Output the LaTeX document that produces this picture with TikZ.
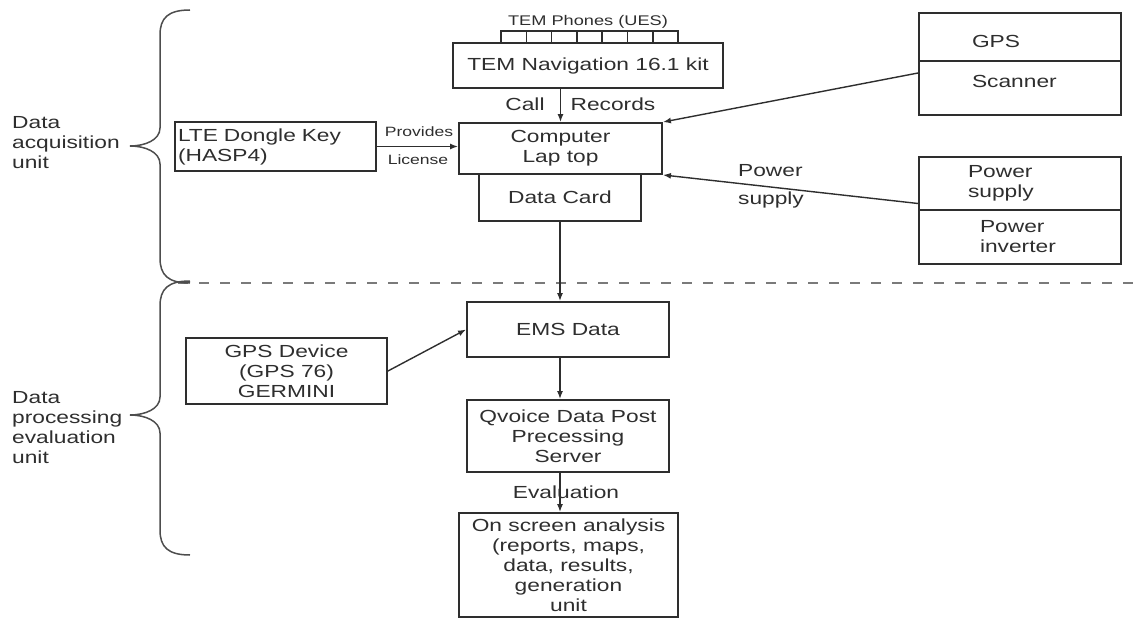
\documentclass[tikz,border=0pt]{standalone}
\usepackage{fontspec}
\setmainfont{Liberation Sans}[FakeStretch=1.3]
\usepackage{tikz}
\usetikzlibrary{positioning,calc,arrows.meta}
\definecolor{ink}{HTML}{2e2e2e}
\definecolor{dashgray}{HTML}{7a7a7a}
\tikzset{box/.style={draw=ink,line width=1.9pt,text=ink,inner sep=0pt,font=\fontsize{17.5}{20}\selectfont,align=center},
	lbl/.style={text=ink,inner sep=0pt,font=\fontsize{17.5}{20}\selectfont},
	small/.style={text=ink,inner sep=0pt,font=\fontsize{13.5}{15}\selectfont},
	arr/.style={draw=ink,line width=1.4pt,-{Latex[length=8pt,width=6pt]}},
	brc/.style={draw=ink!85,line width=1.5pt}}

\begin{document}
\begin{tikzpicture}[x=1pt,y=-1pt]
	\useasboundingbox (0,0) rectangle (1136,618);
	% acquisition part
	\node[box,minimum width=270pt,minimum height=45pt] (nav) at (588,65.5) {TEM Navigation 16.1 kit};
	\def\tw{25.3}
	\foreach \i in {0,...,6}{
		\pgfmathsetmacro{\tx}{501+\tw*\i}
		\draw[ink,line width=1.5pt] (\tx,43) rectangle ++(\tw,-12);
	}
	\node[small,font=\fontsize{14}{16}\selectfont] (phones) at (588,22) {TEM Phones (UES)};
	\node[box,minimum width=203pt,minimum height=51pt] (laptop) at (560.5,148.5) {Computer\\Lap top};
	\node[box,minimum width=162pt,minimum height=47pt] (datacard) at (560,197.5) {Data Card};
	\node[box,minimum width=201pt,minimum height=49pt,text width=195pt,align=left,inner xsep=3pt] (dongle) at (275.5,146.5) {LTE Dongle Key\\(HASP4)};
	\node[box,minimum width=202pt,minimum height=48pt,text width=96pt,align=left,inner xsep=53pt,text height=22pt,text depth=0pt] (gps) at (1020,37) {GPS};
	\node[box,minimum width=202pt,minimum height=54pt,text width=96pt,align=left,inner xsep=53pt,text height=6pt,text depth=6pt] (scanner) at (1020,88) {Scanner};
	\node[box,minimum width=202pt,minimum height=53pt,text width=104pt,align=left,inner xsep=49pt] (psupply) at (1020,183.5) {Power\\supply};
	\node[box,minimum width=202pt,minimum height=54pt,text width=80pt,align=left,inner xsep=61pt] (pinverter) at (1020,237) {Power\\inverter};

	\draw[arr] (nav.south -| laptop.north) -- (laptop.north);
	\node[lbl] (call) at (525,104) {Call};
	\node[lbl] (rec) at (613,104) {Records};
	\draw[arr] (dongle.east) -- (dongle.east -| laptop.west);
	\node[small] (prov) at (419,132) {Provides};
	\node[small] (lic) at (418,160) {License};
	\draw[arr] ([yshift=15pt]scanner.west) -- (laptop.north east);
	\draw[arr] ([yshift=-20pt]psupply.west) -- (laptop.south east);
	\node[lbl,align=left,font=\fontsize{17.5}{28}\selectfont] (pwr) at (771,186) {Power\\supply};

	% split line
	\draw[dashgray,line width=2.5pt,dash pattern=on 10pt off 11pt] (178,283) -- (1136,283);

	% processing part
	\node[box,minimum width=202pt,minimum height=55pt] (ems) at (568,329.5) {EMS Data};
	\node[box,minimum width=201pt,minimum height=66pt] (gpsdev) at (286.5,371) {GPS Device\\(GPS 76)\\GERMINI};
	\node[box,minimum width=202pt,minimum height=72pt] (qvoice) at (568,436) {Qvoice Data Post\\Precessing\\Server};
	\node[box,minimum width=219pt,minimum height=104pt] (onscreen) at (568.5,565) {On screen analysis\\(reports, maps,\\data, results,\\generation\\unit};

	\draw[arr] (datacard.south) -- (datacard.south |- ems.north);
	\draw[arr] (gpsdev.east) -- (ems.west);
	\draw[arr] (ems.south -| datacard.south) -- (qvoice.north -| datacard.south);
	\draw[arr] (qvoice.south -| datacard.south) -- (onscreen.north -| datacard.south);
	\node[lbl] (eval) at (566,492) {Evaluation};

	% braces
	\draw[brc] (190,10) .. controls (168,10) and (160,18) .. (160,35) -- (160,128) .. controls (160,140) and (145,146) .. (130,146) .. controls (145,146) and (160,152) .. (160,164) -- (160,258) .. controls (160,275) and (168,283) .. (190,283);
	\draw[brc] (190,281) .. controls (168,281) and (160,289) .. (160,306) -- (160,397) .. controls (160,409) and (145,415) .. (130,415) .. controls (145,415) and (160,421) .. (160,433) -- (160,530) .. controls (160,547) and (168,555) .. (190,555);
	\node[lbl,align=left,anchor=west] (acq) at (12,143) {Data\\acquisition\\unit};
	\node[lbl,align=left,anchor=west] (proc) at (12,428) {Data\\processing\\evaluation\\unit};
\end{tikzpicture}
\end{document}
